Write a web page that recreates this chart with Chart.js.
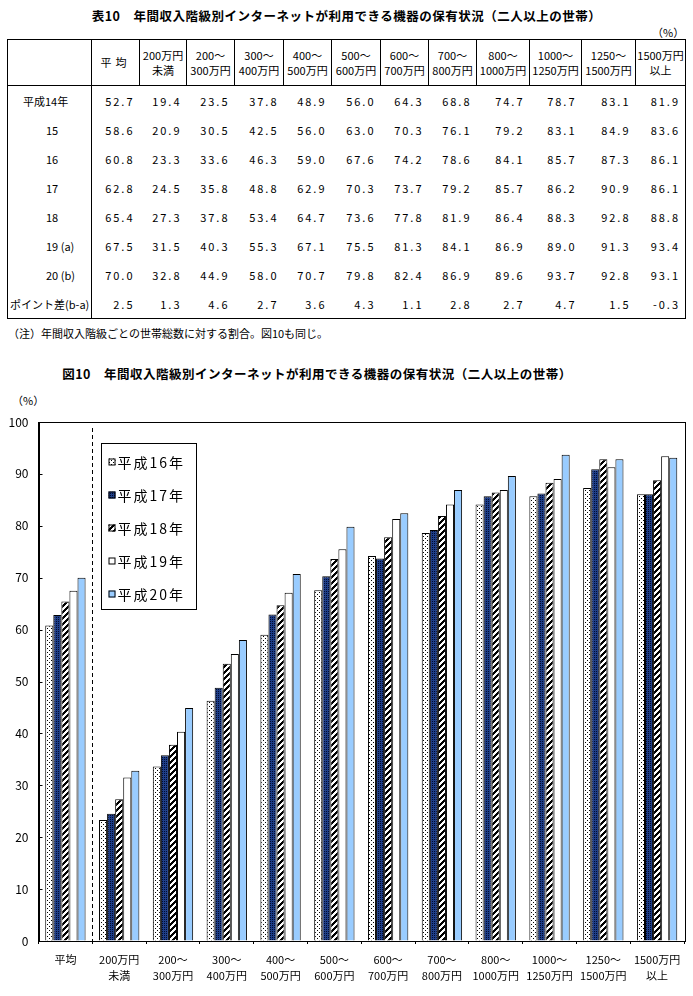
<!DOCTYPE html>
<html>
<head>
<meta charset="utf-8">
<script src="https://cdn.jsdelivr.net/npm/chart.js@4.4.1/dist/chart.umd.min.js"></script>
<style>
body { margin: 0; background: #fff; font-family: "Noto Sans CJK JP", sans-serif; color: #000; }
#page { position: relative; width: 693px; height: 996px; overflow: hidden; }
.ttl { position: absolute; font-weight: bold; font-size: 12.5px; text-align: center; letter-spacing: 0.5px; }
#unit1 { position: absolute; left: 652px; top: 24px; font-size: 11px; }
#tbl { position: absolute; left: 7px; top: 39px; border-collapse: collapse; table-layout: fixed; border: 1px solid #000; font-size: 11px; }
#tbl th { font-weight: normal; height: 45px; border-left: 1px solid #000; border-bottom: 1px solid #000; line-height: 15px; padding: 0; text-align: center; }
#tbl td { height: 29px; padding: 0 5px 0 0; text-align: right; letter-spacing: 2px; }
#tbl td.rl { text-align: left; border-right: 1px solid #000; letter-spacing: 0; padding: 0; }
#note { position: absolute; left: 8px; top: 325px; font-size: 11px; }
#unit2 { position: absolute; left: 12px; top: 392px; font-size: 11px; }
#chartBox { position: absolute; left: 0; top: 385px; width: 693px; height: 611px; }
</style>
</head>
<body>
<div id="page">
  <div class="ttl" style="left:0;top:6px;width:693px;">表10　年間収入階級別インターネットが利用できる機器の保有状況（二人以上の世帯）</div>
  <div id="unit1">（%）</div>
  <table id="tbl"></table>
  <div id="note">（注）年間収入階級ごとの世帯総数に対する割合。図10も同じ。</div>
  <div class="ttl" style="left:0;top:364px;width:634px;">図10　年間収入階級別インターネットが利用できる機器の保有状況（二人以上の世帯）</div>
  <div id="unit2">（%）</div>
  <div id="chartBox"><canvas id="chart" width="693" height="611"></canvas></div>
</div>
<script>
// income classes (two-line labels)
const incomeCats = [['平均'], ['200万円', '未満'], ['200～', '300万円'], ['300～', '400万円'], ['400～', '500万円'],
  ['500～', '600万円'], ['600～', '700万円'], ['700～', '800万円'], ['800～', '1000万円'], ['1000～', '1250万円'],
  ['1250～', '1500万円'], ['1500万円', '以上']];

const rowLabels = ['平成14年', '15', '16', '17', '18', '19 (a)', '20 (b)', 'ポイント差(b-a)'];

const h14 = [52.7, 19.4, 23.5, 37.8, 48.9, 56.0, 64.3, 68.8, 74.7, 78.7, 83.1, 81.9];
const h15 = [58.6, 20.9, 30.5, 42.5, 56.0, 63.0, 70.3, 76.1, 79.2, 83.1, 84.9, 83.6];
const h16 = [60.8, 23.3, 33.6, 46.3, 59.0, 67.6, 74.2, 78.6, 84.1, 85.7, 87.3, 86.1];
const h17 = [62.8, 24.5, 35.8, 48.8, 62.9, 70.3, 73.7, 79.2, 85.7, 86.2, 90.9, 86.1];
const h18 = [65.4, 27.3, 37.8, 53.4, 64.7, 73.6, 77.8, 81.9, 86.4, 88.3, 92.8, 88.8];
const h19 = [67.5, 31.5, 40.3, 55.3, 67.1, 75.5, 81.3, 84.1, 86.9, 89.0, 91.3, 93.4];
const h20 = [70.0, 32.8, 44.9, 58.0, 70.7, 79.8, 82.4, 86.9, 89.6, 93.7, 92.8, 93.1];
const pointDiff = [2.5, 1.3, 4.6, 2.7, 3.6, 4.3, 1.1, 2.8, 2.7, 4.7, 1.5, -0.3];

const seriesNames = ['平成16年', '平成17年', '平成18年', '平成19年', '平成20年'];

// table
const colW = [84, 48, 47, 48, 49, 48, 49, 48, 48, 53, 52, 54, 50];
const tableRows = [h14, h15, h16, h17, h18, h19, h20, pointDiff];
const rowPad = [15, 38, 38, 38, 38, 38, 38, 2];

let html = '<colgroup>' + colW.map(w => '<col style="width:' + w + 'px">').join('') + '</colgroup>';
html += '<tr><th style="border-left:none"></th>';
incomeCats.forEach((c, i) => {
  const txt = i === 0 ? '<span style="letter-spacing:4px">' + c[0] + '</span>' : c.join('<br>');
  html += '<th>' + txt + '</th>';
});
html += '</tr>';
tableRows.forEach((r, ri) => {
  html += '<tr><td class="rl" style="padding-left:' + rowPad[ri] + 'px">' + rowLabels[ri] + '</td>';
  r.forEach(v => { html += '<td>' + v.toFixed(1) + '</td>'; });
  html += '</tr>';
});
document.getElementById('tbl').innerHTML = html;

// patterns
function makePattern(size, draw) {
  const c = document.createElement('canvas');
  c.width = size; c.height = size;
  const g = c.getContext('2d');
  draw(g, size);
  return g.createPattern(c, 'repeat');
}
const dotted = makePattern(4, g => {
  g.fillStyle = '#fff'; g.fillRect(0, 0, 4, 4);
  g.fillStyle = '#000'; g.fillRect(1, 1, 1, 1); g.fillRect(3, 3, 1, 1);
});
const navy = makePattern(2, g => {
  g.fillStyle = '#1f3f88'; g.fillRect(0, 0, 2, 2);
  g.fillStyle = '#000a30'; g.fillRect(0, 0, 1, 1);
});
const hatch = makePattern(6, (g, n) => {
  g.fillStyle = '#fff'; g.fillRect(0, 0, n, n);
  g.fillStyle = '#000';
  for (let px = 0; px < n; px++) {
    for (let py = 0; py < n; py++) {
      if ((px + py) % n < 3) g.fillRect(px, py, 1, 1);
    }
  }
});
const fills = [dotted, navy, hatch, '#ffffff', '#99ccff'];
const seriesData = [h16, h17, h18, h19, h20];

const framePlugin = {
  id: 'frame',
  afterDraw(chart) {
    const ctx = chart.ctx, a = chart.chartArea, x = chart.scales.x, y = chart.scales.y;
    ctx.save();
    ctx.strokeStyle = '#000';
    ctx.lineWidth = 1;
    ctx.strokeRect(Math.round(a.left) + 0.5, Math.round(a.top) + 0.5, Math.round(a.right - a.left), Math.round(a.bottom - a.top));
    // inward ticks on y axis
    for (let v = 10; v < 100; v += 10) {
      const py = Math.round(y.getPixelForValue(v)) + 0.5;
      ctx.beginPath(); ctx.moveTo(a.left, py); ctx.lineTo(a.left + 4, py); ctx.stroke();
    }
    // dashed separator after 平均
    const sx = Math.round((x.getPixelForValue(0) + x.getPixelForValue(1)) / 2) + 0.5;
    ctx.setLineDash([4, 3]);
    ctx.beginPath(); ctx.moveTo(sx, a.top + 6); ctx.lineTo(sx, a.bottom + 2); ctx.stroke();
    ctx.setLineDash([]);
    // legend
    const lx = Math.round(a.left + 62) + 0.5, ly = Math.round(a.top + 21) + 0.5;
    ctx.fillStyle = '#fff';
    ctx.fillRect(lx, ly, 95, 166);
    ctx.strokeRect(lx, ly, 95, 166);
    ctx.font = '14px "Noto Sans CJK JP"';
    ctx.textBaseline = 'middle';
    ctx.letterSpacing = '2px';
    chart.data.datasets.forEach((ds, i) => {
      const cy = ly + 19 + i * 33;
      ctx.fillStyle = ds.backgroundColor;
      ctx.fillRect(lx + 7, cy - 4, 7, 7);
      ctx.strokeRect(lx + 7.5, cy - 3.5, 6, 6);
      ctx.fillStyle = '#000';
      ctx.fillText(ds.label, lx + 16, cy);
    });
    ctx.restore();
  }
};

new Chart(document.getElementById('chart'), {
  type: 'bar',
  data: {
    labels: incomeCats,
    datasets: seriesNames.map((n, i) => ({
      label: n,
      data: seriesData[i],
      backgroundColor: fills[i],
      borderColor: '#000',
      borderWidth: 1,
      categoryPercentage: 0.75,
      barPercentage: 1.0
    }))
  },
  options: {
    responsive: false,
    animation: false,
    layout: { padding: { top: 37, right: 9, left: 0, bottom: 0 } },
    plugins: { legend: { display: false }, tooltip: { enabled: false } },
    scales: {
      x: {
        grid: { offset: true, drawOnChartArea: false, drawTicks: true, tickLength: 3, color: '#000' },
        border: { color: '#000' },
        ticks: { color: '#000', font: { family: 'Noto Sans CJK JP', size: 11, lineHeight: 1.45 }, padding: 8, maxRotation: 0, autoSkip: false },
        afterFit(s) { s.height = 55; }
      },
      y: {
        min: 0, max: 100,
        grid: { drawOnChartArea: false, drawTicks: false },
        border: { color: '#000' },
        ticks: { stepSize: 10, color: '#000', padding: 10, font: { family: 'Noto Sans CJK JP', size: 12 } },
        afterFit(s) { s.width = 38.5; }
      }
    }
  },
  plugins: [framePlugin]
});
</script>
</body>
</html>
